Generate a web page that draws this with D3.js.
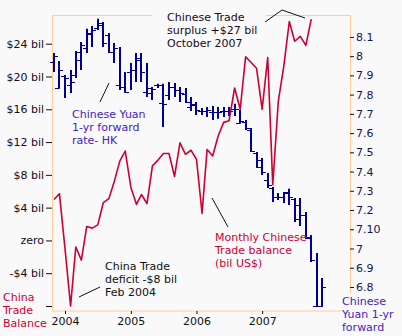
<!DOCTYPE html>
<html>
<head>
<meta charset="utf-8">
<script src="https://cdn.jsdelivr.net/npm/d3@7"></script>
<style>
  body { margin: 0; background: #f9f9f9; }
  svg { display: block; }
  text { font-family: "DejaVu Sans", Verdana, sans-serif; font-size: 11px; }
</style>
</head>
<body>
<svg id="chart" width="402" height="336"></svg>
<script>
// Months covered by the yuan forward bars (Nov 2003 - Dec 2007)
const months = [
  "2003-11","2003-12",
  "2004-01","2004-02","2004-03","2004-04","2004-05","2004-06","2004-07","2004-08","2004-09","2004-10","2004-11","2004-12",
  "2005-01","2005-02","2005-03","2005-04","2005-05","2005-06","2005-07","2005-08","2005-09","2005-10","2005-11","2005-12",
  "2006-01","2006-02","2006-03","2006-04","2006-05","2006-06","2006-07","2006-08","2006-09","2006-10","2006-11","2006-12",
  "2007-01","2007-02","2007-03","2007-04","2007-05","2007-06","2007-07","2007-08","2007-09","2007-10","2007-11","2007-12"
];

// Monthly Chinese trade balance, bil US$ (Nov 2003 - Oct 2007)
const tradeBalance = [
  5.0, 5.7,
  -1.0, -8.0, -0.8, -2.4, 1.7, 1.5, 1.9, 4.6, 5.1, 7.2, 9.7, 10.9,
  6.5, 4.4, 5.6, 4.5, 9.1, 9.8, 10.6, 10.6, 7.8, 11.9, 10.5, 11.0,
  9.9, 3.3, 11.1, 10.3, 12.7, 14.4, 14.6, 18.6, 16.0, 22.4, 21.7, 21.0,
  16.0, 22.3, 6.8, 17.0, 21.2, 26.7, 24.3, 24.9, 23.8, 27.0
];

// Chinese yuan 1-yr forward (HK), monthly open / high / low / close
const yuanOpen = [
  7.970, 7.835,
  7.897, 7.850, 7.902, 7.980, 8.043, 8.121, 8.147, 8.162, 8.110, 8.022, 7.850, 7.840,
  7.918, 7.928, 7.980, 7.814, 7.835, 7.850, 7.757, 7.798, 7.840, 7.824, 7.804, 7.736,
  7.746, 7.715, 7.715, 7.710, 7.710, 7.715, 7.715, 7.726, 7.653, 7.658, 7.616, 7.497,
  7.460, 7.356, 7.315, 7.268, 7.268, 7.289, 7.258, 7.226, 7.174, 7.060, 6.701, 6.701
];
const yuanHigh = [
  8.017, 7.975,
  7.902, 7.928, 8.027, 8.074, 8.142, 8.157, 8.194, 8.178, 8.121, 8.069, 8.048, 7.918,
  7.965, 8.017, 8.017, 7.965, 7.840, 7.856, 7.856, 7.866, 7.861, 7.840, 7.835, 7.788,
  7.762, 7.731, 7.736, 7.741, 7.736, 7.736, 7.736, 7.752, 7.720, 7.668, 7.627, 7.502,
  7.471, 7.393, 7.320, 7.289, 7.294, 7.310, 7.263, 7.263, 7.190, 7.070, 6.977, 6.847
];
const yuanLow = [
  7.918, 7.830,
  7.783, 7.809, 7.887, 7.928, 8.017, 8.048, 8.136, 8.048, 8.017, 7.965, 7.824, 7.809,
  7.824, 7.866, 7.866, 7.788, 7.772, 7.835, 7.632, 7.772, 7.788, 7.762, 7.757, 7.715,
  7.694, 7.694, 7.684, 7.668, 7.674, 7.684, 7.689, 7.689, 7.648, 7.616, 7.502, 7.419,
  7.382, 7.315, 7.242, 7.252, 7.237, 7.226, 7.138, 7.117, 7.050, 6.930, 6.696, 6.696
];
const yuanClose = [
  8.001, 7.928,
  7.887, 7.866, 8.022, 8.058, 8.116, 8.136, 8.173, 8.069, 8.022, 8.043, 7.840, 7.814,
  7.928, 7.991, 7.918, 7.809, 7.830, 7.850, 7.752, 7.840, 7.824, 7.809, 7.762, 7.752,
  7.720, 7.715, 7.720, 7.710, 7.710, 7.715, 7.715, 7.726, 7.663, 7.627, 7.507, 7.424,
  7.398, 7.330, 7.268, 7.268, 7.294, 7.268, 7.154, 7.174, 7.055, 6.940, 6.701, 6.800
];

// Axis ticks and labels
const leftTicks  = [24, 20, 16, 12, 8, 4, 0, -4, -8];
const leftLabels = ["$24 bil", "$20 bil", "$16 bil", "$12 bil", "$8 bil", "$4 bil", "zero", "-$4 bil", ""];
const rightTicks  = [8.1, 8.0, 7.9, 7.8, 7.7, 7.6, 7.5, 7.4, 7.3, 7.2, 7.1, 7.0, 6.9, 6.8];
const rightLabels = ["8.1", "8", "7.9", "7.8", "7.7", "7.6", "7.5", "7.4", "7.3", "7.2", "7.10", "7", "6.9", "6.8"];
const years = ["2004", "2005", "2006", "2007"];

const parseMonth = d3.timeParse("%Y-%m");
const dates = months.map(parseMonth);

const RED = "#cc0033", NAVY = "#000099", PURPLE = "#4422bb", FRAME = "#ffcc99", BG = "#f9f9f9";

const svg = d3.select("#chart");
svg.append("rect").attr("width", 402).attr("height", 336).attr("fill", BG);

const plot = { left: 52, right: 350, top: 15, bottom: 311 };

const x = d3.scaleTime()
  .domain([new Date(2004, 0, 1), new Date(2008, 0, 1)])
  .range([65, 327.8]);
const yL = d3.scaleLinear().domain([-8.61, 27.5]).range([plot.bottom, plot.top]);
const yR = d3.scaleLinear().domain([6.675, 8.214]).range([plot.bottom, plot.top]);

// plot frame
svg.append("rect")
  .attr("x", plot.left + 0.5).attr("y", plot.top + 0.5)
  .attr("width", plot.right - plot.left).attr("height", plot.bottom - plot.top - 0.5)
  .attr("fill", "none").attr("stroke", FRAME).attr("stroke-width", 1);

// left axis (trade balance)
const axL = svg.append("g")
  .attr("transform", `translate(${plot.left},0)`)
  .call(d3.axisLeft(yL).tickValues(leftTicks).tickFormat((d, i) => leftLabels[i]).tickSize(6).tickPadding(2));
axL.select(".domain").remove();
axL.selectAll("line").attr("stroke", "#111");
axL.selectAll("text").attr("fill", "#1a0a1a").style("font-size", "11px").style("font-family", "DejaVu Sans");

// right axis (yuan forward)
const axR = svg.append("g")
  .attr("transform", `translate(${plot.right},0)`)
  .call(d3.axisRight(yR).tickValues(rightTicks).tickFormat((d, i) => rightLabels[i]).tickSize(4).tickPadding(2));
axR.select(".domain").remove();
axR.selectAll("line").attr("stroke", "#111");
axR.selectAll("text").attr("fill", "#141450").style("font-size", "11px").style("font-family", "DejaVu Sans");

// bottom axis (years)
const axB = svg.append("g")
  .attr("transform", `translate(0,${plot.bottom})`)
  .call(d3.axisBottom(x).tickValues(years.map(y => new Date(+y, 0, 1))).tickFormat(d3.timeFormat("%Y")).tickSize(3).tickPadding(3));
axB.select(".domain").remove();
axB.selectAll("line").attr("stroke", "#111");
axB.selectAll("text").attr("fill", "#111").style("font-size", "11px").style("font-family", "DejaVu Sans");

// yuan forward OHLC bars
const bars = svg.append("g").attr("stroke", NAVY);
dates.forEach((d, i) => {
  const cx = Math.round(x(d)) + 0.0;
  bars.append("line")
    .attr("x1", cx).attr("x2", cx)
    .attr("y1", yR(yuanHigh[i])).attr("y2", yR(yuanLow[i]))
    .attr("stroke-width", 2);
  bars.append("line")
    .attr("x1", cx - 4).attr("x2", cx)
    .attr("y1", Math.round(yR(yuanOpen[i])) + 0.5).attr("y2", Math.round(yR(yuanOpen[i])) + 0.5)
    .attr("stroke-width", 1);
  bars.append("line")
    .attr("x1", cx).attr("x2", cx + 4)
    .attr("y1", Math.round(yR(yuanClose[i])) + 0.5).attr("y2", Math.round(yR(yuanClose[i])) + 0.5)
    .attr("stroke-width", 1);
});

// monthly trade balance line
const line = d3.line()
  .x((v, i) => x(dates[i]))
  .y(v => yL(v));
svg.append("path")
  .datum(tradeBalance)
  .attr("d", line)
  .attr("fill", "none")
  .attr("stroke", RED)
  .attr("stroke-width", 1.6)
  .attr("stroke-linejoin", "round");

// label boxes that sit over the frame
svg.append("rect").attr("x", 152).attr("y", 4).attr("width", 114).attr("height", 48).attr("fill", BG);
svg.append("rect").attr("x", 341).attr("y", 293).attr("width", 61).attr("height", 43).attr("fill", BG);

function label(lines, px, baselines, color) {
  const t = svg.append("text").attr("fill", color);
  lines.forEach((s, i) => t.append("tspan").attr("x", px).attr("y", baselines[i]).text(s));
}

label(["Chinese Trade", "surplus +$27 bil", "October 2007"], 167, [21, 34, 47], "#1a0a1a");
label(["Chinese Yuan", "1-yr forward", "rate- HK"], 72, [118, 131, 144], PURPLE);
label(["Monthly Chinese", "Trade balance", "(bil US$)"], 215, [241, 254, 267], RED);
label(["China Trade", "deficit -$8 bil", "Feb 2004"], 105, [270, 283, 296], "#111");
label(["China", "Trade", "Balance"], 3, [301, 314, 327], RED);
label(["Chinese", "Yuan 1-yr", "forward"], 342, [305, 318, 331], PURPLE);

// leader lines
const leaders = svg.append("g").attr("stroke", "#111").attr("stroke-width", 1).attr("fill", "none");
leaders.append("polyline").attr("points", "265,22 282,10 305,18");
leaders.append("line").attr("x1", 100).attr("y1", 102).attr("x2", 109).attr("y2", 83);
leaders.append("line").attr("x1", 212).attr("y1", 198).attr("x2", 228).attr("y2", 227);
leaders.append("line").attr("x1", 79).attr("y1", 297).attr("x2", 100).attr("y2", 287);
</script>
</body>
</html>
